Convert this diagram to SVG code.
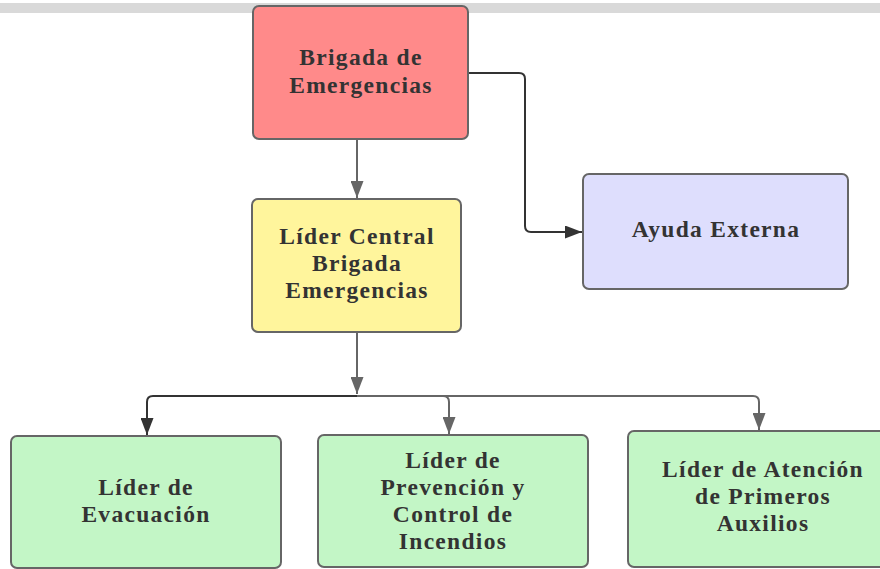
<svg xmlns="http://www.w3.org/2000/svg" width="880" height="569" viewBox="0 0 880 569">
<defs>
<style>
.box{stroke:#666;stroke-width:2}
.t{font-family:"Liberation Serif","Times New Roman",serif;font-weight:bold;font-size:23.5px;fill:#333;text-anchor:middle;letter-spacing:1.3px}
.dk{fill:none;stroke:#333;stroke-width:2}
.gr{fill:none;stroke:#666;stroke-width:2}
</style>
<marker id="ad" markerWidth="17" markerHeight="13" refX="17" refY="6.5" orient="auto" markerUnits="userSpaceOnUse"><path d="M0,0 L17,6.5 L0,13 Z" fill="#333"/></marker>
<marker id="ag" markerWidth="17" markerHeight="13" refX="17" refY="6.5" orient="auto" markerUnits="userSpaceOnUse"><path d="M0,0 L17,6.5 L0,13 Z" fill="#666"/></marker>
</defs>
<rect x="0" y="0" width="880" height="569" fill="#fff"/>
<rect x="0" y="3" width="880" height="10" fill="#d9d9d9"/>
<g id="connectors">
<path class="gr" d="M357,139 V198" marker-end="url(#ag)"/>
<path class="dk" d="M468,73 H519 Q525,73 525,79 V226 Q525,232 531,232 H582" marker-end="url(#ad)"/>
<path class="gr" d="M357,332 V394" marker-end="url(#ag)"/>
<path class="dk" d="M357,396 H153 Q147,396 147,402 V435" marker-end="url(#ad)"/>
<path class="gr" d="M357,396 H443 Q449,396 449,402 V434" marker-end="url(#ag)"/>
<path class="gr" d="M443,396 H753 Q759,396 759,402 V430" marker-end="url(#ag)"/>
</g>
<g id="brigada">
<rect class="box" x="253" y="6" width="215" height="133" rx="6" fill="#ff8a8a"/>
<text class="t" x="361" y="65">Brigada de</text>
<text class="t" x="361" y="93">Emergencias</text>
</g>
<g id="lider-central">
<rect class="box" x="252" y="199" width="209" height="133" rx="6" fill="#fff59c"/>
<text class="t" x="357" y="244">Líder Central</text>
<text class="t" x="357" y="271">Brigada</text>
<text class="t" x="357" y="298">Emergencias</text>
</g>
<g id="ayuda-externa">
<rect class="box" x="583" y="174" width="265" height="115" rx="6" fill="#dedefd"/>
<text class="t" x="716" y="237">Ayuda Externa</text>
</g>
<g id="lider-evacuacion">
<rect class="box" x="11" y="436" width="270" height="132" rx="6" fill="#c3f6c6"/>
<text class="t" x="146" y="495">Líder de</text>
<text class="t" x="146" y="522">Evacuación</text>
</g>
<g id="lider-prevencion">
<rect class="box" x="318" y="435" width="270" height="132" rx="6" fill="#c3f6c6"/>
<text class="t" x="453" y="468">Líder de</text>
<text class="t" x="453" y="495">Prevención y</text>
<text class="t" x="453" y="522">Control de</text>
<text class="t" x="453" y="549">Incendios</text>
</g>
<g id="lider-primeros-auxilios">
<rect class="box" x="628" y="431" width="270" height="136" rx="6" fill="#c3f6c6"/>
<text class="t" x="763" y="477">Líder de Atención</text>
<text class="t" x="763" y="504">de Primeros</text>
<text class="t" x="763" y="531">Auxilios</text>
</g>
</svg>
